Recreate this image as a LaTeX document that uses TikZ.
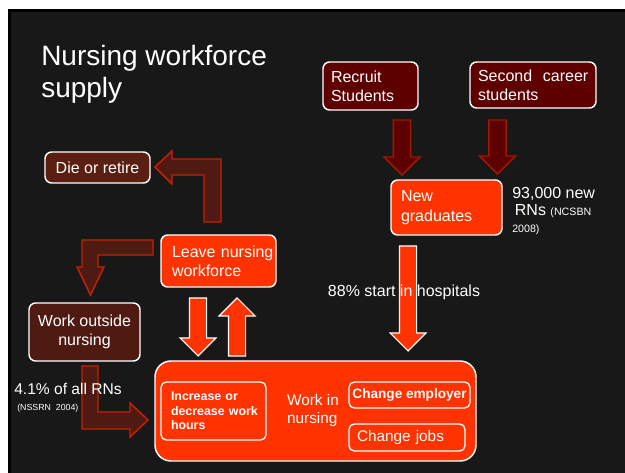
\documentclass[tikz,border=0pt]{standalone}
\usepackage{fontspec}
\setmainfont{Liberation Sans}
\usetikzlibrary{calc}

\definecolor{slide}{HTML}{181818}
\definecolor{hot}{HTML}{FF3300}
\definecolor{wine}{HTML}{5E0000}
\definecolor{rust}{HTML}{A01800}
\definecolor{bark}{HTML}{5A1E12}
\definecolor{soil}{HTML}{4E1A12}
\definecolor{ember}{HTML}{C42200}

% no hyphenation inside the boxes
\hyphenpenalty=10000
\exhyphenpenalty=10000

\begin{document}
\begin{tikzpicture}[x=0.75pt,y=-0.75pt,
	box/.style={draw=white, line width=1.1pt, rounded corners=5pt, text=white, inner sep=0pt,
		font=\fontsize{12}{14.5}\selectfont},
	darkbox/.style={box, fill=wine, align=left},
	hotbox/.style={box, fill=hot, align=left},
	brownbox/.style={box, fill=#1, align=center},
	subbox/.style={box, line width=1pt, rounded corners=4pt},
	darkarrow/.style={fill=wine, draw=rust, line width=1.1pt},
	hotarrow/.style={fill=hot, draw=white, line width=0.8pt},
	bentarrow/.style={fill=soil, draw=ember, line width=1.1pt, line join=miter},
	label/.style={text=white, inner sep=0pt, align=left}]

\def\px{0.75pt}
% block arrow geometry
\def\shaftW{6.4pt}
\def\headW{13.5pt}
\def\headL{13.5pt}

\newcommand*{\blockarrow}[3]{
	\path[#1] let \p1=(#2), \p2=(#3), \n1={sign(\y2-\y1)} in
		({\x1-\shaftW},\y1) -- ({\x1+\shaftW},\y1)
		-- ({\x1+\shaftW},{\y2-(\n1)*\headL}) -- ({\x1+\headW},{\y2-(\n1)*\headL})
		-- (\x1,\y2) -- ({\x1-\headW},{\y2-(\n1)*\headL})
		-- ({\x1-\shaftW},{\y2-(\n1)*\headL}) -- cycle;
}

% slide
\fill[white] (0,0) rectangle (625,473);
\fill[black] (8,9) rectangle (625,473);
\fill[slide] (11,12) rectangle (625,473);

\node[label, anchor=north west, font=\fontsize{21}{24}\selectfont] (title) at (41,45) {Nursing workforce\\supply};

% bent arrows out of and back into the workforce
\coordinate (retireA) at (204,222);
\draw[bentarrow] (retireA) -- ++(17,0) -- ++(0,-63) -- ++(-49,0) -- ++(0,-8)
	-- ++(-17,16) -- ++(17,17) -- ++(0,-9) -- ++(32,0) -- cycle;
\coordinate (outsideA) at (153,240);
\draw[bentarrow] (outsideA) -- ++(-71,0) -- ++(0,27) -- ++(-5,0)
	-- ++(13.5,28) -- ++(13.5,-28) -- ++(-6,0) -- ++(0,-12) -- ++(55,0) -- cycle;
\coordinate (backA) at (82,366);
\draw[bentarrow] (backA) -- ++(16,0) -- ++(0,46) -- ++(32,0) -- ++(0,-9)
	-- ++(18,17) -- ++(-18,17) -- ++(0,-8) -- ++(-48,0) -- cycle;

% straight block arrows
\coordinate (recA) at (402,120);
\coordinate (recB) at (402,175);
\coordinate (secA) at (497.5,120);
\coordinate (secB) at (497.5,174);
\coordinate (gradA) at (408,246);
\coordinate (gradB) at (408,351);
\coordinate (dropA) at (198,298);
\coordinate (dropB) at (198,356);
\coordinate (riseA) at (237,356);
\coordinate (riseB) at (237,298);
\blockarrow{darkarrow}{recA}{recB}
\blockarrow{darkarrow}{secA}{secB}
\blockarrow{hotarrow}{gradA}{gradB}
\blockarrow{hotarrow}{dropA}{dropB}
\blockarrow{hotarrow}{riseA}{riseB}

% boxes
\node[darkbox, minimum width=95*\px, minimum height=48*\px, text width=79*\px] (rec) at (370.5,86) {Recruit\\Students};
\node[darkbox, minimum width=126*\px, minimum height=46*\px, text width=110*\px] (sec) at (533,85) {Second~~career\\students};
\node[hotbox, minimum width=111*\px, minimum height=55*\px, text width=91*\px] (newg) at (446.5,207.5) {New\\graduates};
\node[hotbox, minimum width=115*\px, minimum height=52*\px, text width=93*\px] (leave) at (218.5,261) {Leave~nursing\\workforce};
\node[brownbox=bark, minimum width=105*\px, minimum height=31*\px] (die) at (97.5,167.5) {Die or retire};
\node[brownbox=soil, minimum width=111*\px, minimum height=58*\px] (wout) at (84.5,332) {Work outside\\nursing};

\node[box, fill=hot, rounded corners=12pt, minimum width=321*\px, minimum height=100*\px] (win) at (315.5,411) {};
\node[subbox, align=left, minimum width=105*\px, minimum height=58*\px, text width=85*\px,
	font=\bfseries\fontsize{9.3}{10.9}\selectfont] (hours) at (213.5,411) {Increase~or\\decrease~work\\hours};
\node[label, font=\fontsize{11.5}{13.5}\selectfont] (wtxt) at (313,411) {Work in\\nursing};
\node[subbox, align=center, minimum width=121*\px, minimum height=26*\px,
	font=\bfseries\fontsize{10.2}{12}\selectfont] (empl) at (409.5,395) {Change employer};
\node[subbox, align=left, minimum width=116*\px, minimum height=27*\px, text width=100*\px,
	font=\fontsize{11.5}{13.5}\selectfont] (jobs) at (407,437.5) {Change~jobs};

% figures
\node[label, anchor=north west, font=\fontsize{12}{12.75}\selectfont] (newRN) at (512,187)
	{93,000 new\\\,RNs {\fontsize{8}{9}\selectfont (NCSBN}\\{\fontsize{8}{9}\selectfont 2008)}};
\node[label, font=\fontsize{12}{14}\selectfont] (hosp) at (404,292) {88\% start in hospitals};
\node[label, anchor=west, font=\fontsize{11.7}{14}\selectfont] (share) at (14,389) {4.1\% of all RNs};
\node[label, anchor=west, font=\fontsize{6.6}{8}\selectfont] (nssrn) at (17,408) {(NSSRN\ \ 2004)};

\end{tikzpicture}
\end{document}
